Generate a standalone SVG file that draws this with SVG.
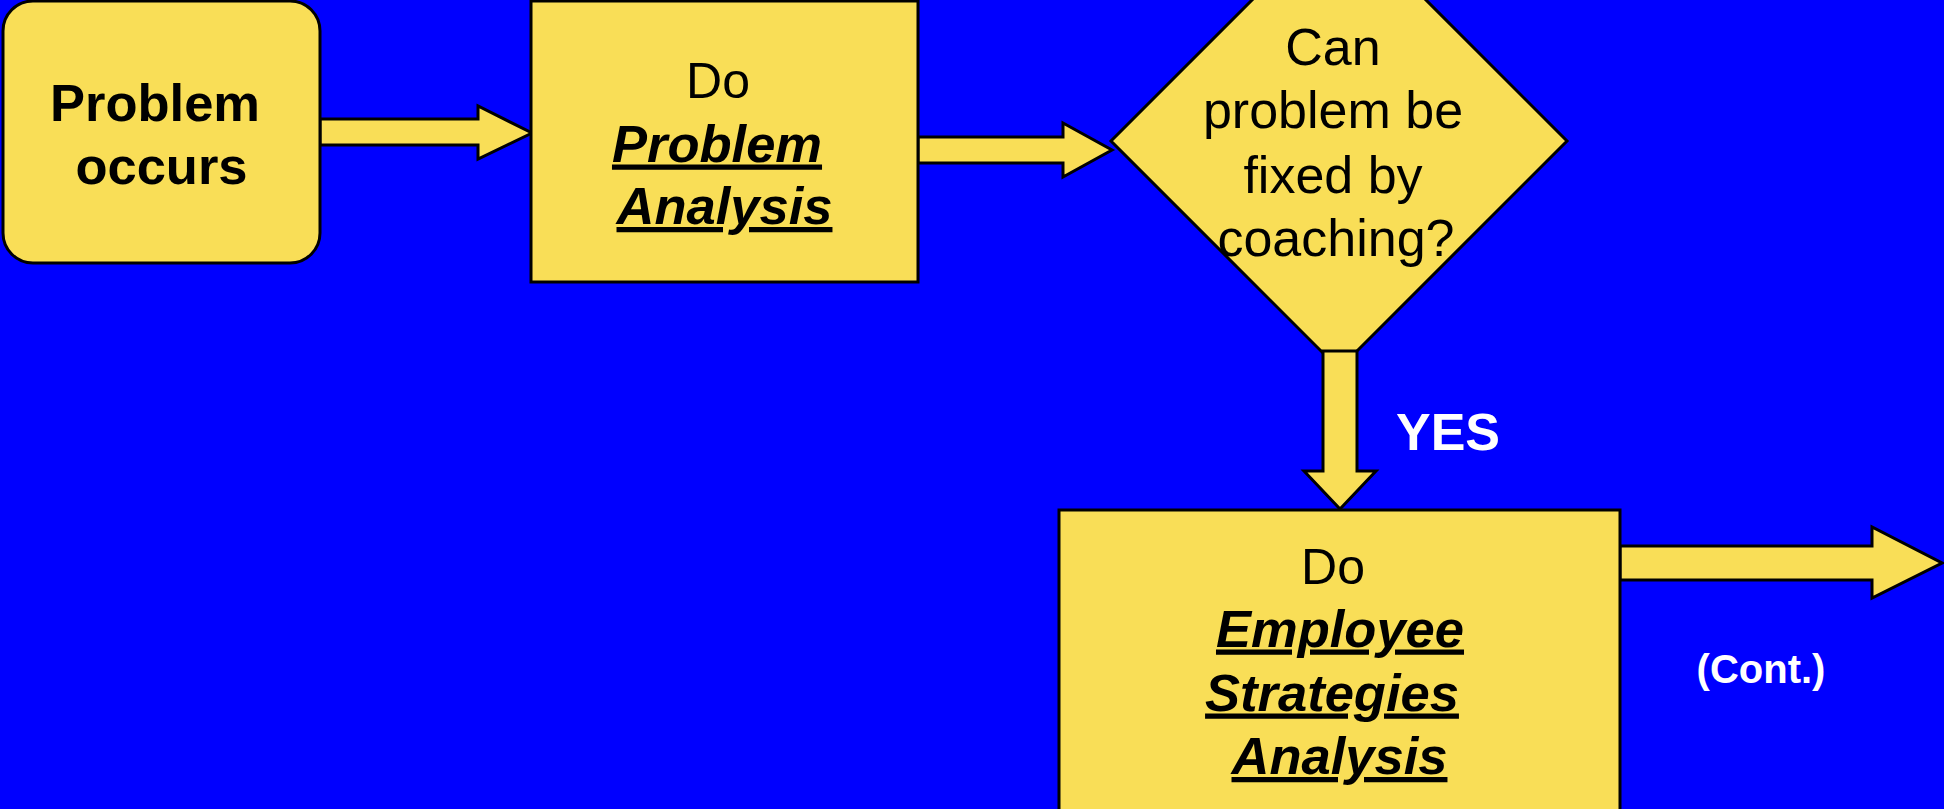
<svg xmlns="http://www.w3.org/2000/svg" width="1944" height="809" viewBox="0 0 1944 809">
  <style>
    .shape { fill: #F9DE57; stroke: #000; stroke-width: 3; stroke-linejoin: miter; }
    .txt { font-family: "Liberation Sans", Arial, sans-serif; fill: #000; text-anchor: middle; }
    .reg { font-size: 50px; }
    .ask { font-size: 52px; }
    .bold { font-size: 52.5px; font-weight: bold; }
    .em { font-size: 52.5px; font-weight: bold; font-style: italic; text-decoration: underline; }
    .label { font-family: "Liberation Sans", Arial, sans-serif; fill: #fff; font-weight: bold; text-anchor: middle; }
  </style>

  <rect x="0" y="0" width="1944" height="809" fill="#0000FF"/>

  <!-- decision diamond sits under the downward arrow -->
  <g id="decision">
    <polygon class="shape" points="1339,-87 1567,141 1339,369 1111,141"/>
    <text class="txt ask" x="1333" y="65">Can</text>
    <text class="txt ask" x="1333" y="128">problem be</text>
    <text class="txt ask" x="1333" y="192.5">fixed by</text>
    <text class="txt ask" x="1336" y="256">coaching?</text>
  </g>

  <g id="connectors">
    <polygon class="shape" points="320,119 478,119 478,106 532,133 478,159 478,145 320,145"/>
    <polygon class="shape" points="918,137 1063,137 1063,123 1112,150 1063,177 1063,163 918,163"/>
    <polygon class="shape" points="1323,351 1357,351 1357,471 1376,471 1340,509 1304,471 1323,471"/>
    <polygon class="shape" points="1620,546 1872,546 1872,527 1942,563 1872,598 1872,580 1620,580"/>
    <text class="label" x="1448" y="450" font-size="52px">YES</text>
    <text class="label" x="1761" y="683" font-size="40px">(Cont.)</text>
  </g>

  <g id="problem-occurs">
    <rect class="shape" x="3" y="1" width="317" height="262" rx="30" ry="30"/>
    <text class="txt bold" x="155" y="121">Problem</text>
    <text class="txt bold" x="161.5" y="183.5">occurs</text>
  </g>

  <g id="problem-analysis">
    <rect class="shape" x="531" y="1" width="387" height="281"/>
    <text class="txt reg" x="718" y="97.5">Do</text>
    <text class="txt em" x="717" y="161.5">Problem</text>
    <text class="txt em" x="724.5" y="224">Analysis</text>
  </g>

  <g id="employee-strategies">
    <rect class="shape" x="1059" y="510" width="561" height="320"/>
    <text class="txt reg" x="1333" y="583.5">Do</text>
    <text class="txt em" x="1340" y="646.5">Employee</text>
    <text class="txt em" x="1332" y="710.5">Strategies</text>
    <text class="txt em" x="1339.5" y="774">Analysis</text>
  </g>
</svg>
